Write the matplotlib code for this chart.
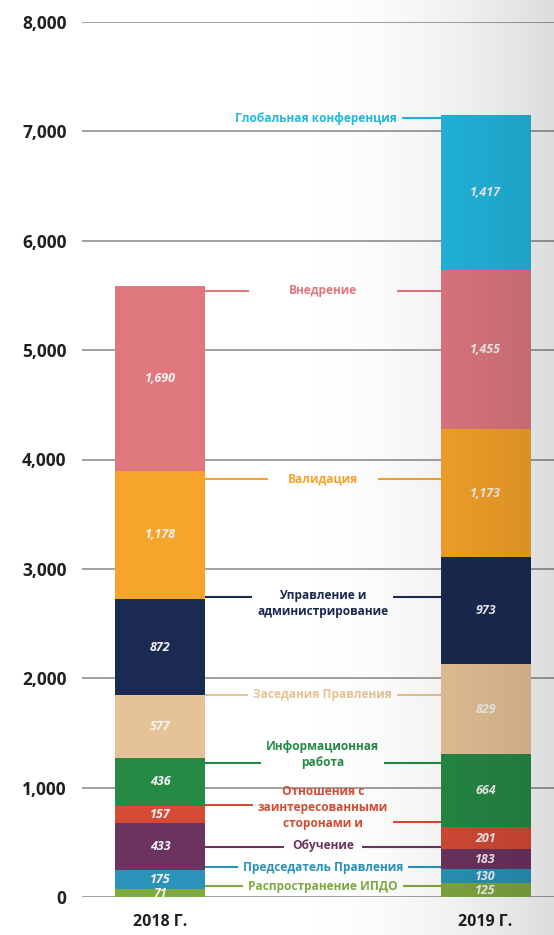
import numpy as np
import matplotlib.pyplot as plt

plt.rcParams['font.family'] = ['Open Sans', 'DejaVu Sans']

years = ['2018 Г.', '2019 Г.']
categories = ['Распространение ИПДО', 'Председатель Правления', 'Обучение',
              'Отношения с\nзаинтересованными\nсторонами и', 'Информационная\nработа',
              'Заседания Правления', 'Управление и\nадминистрирование', 'Валидация',
              'Внедрение', 'Глобальная конференция']
values_2018 = [71, 175, 433, 157, 436, 577, 872, 1178, 1690, 0]
values_2019 = [125, 130, 183, 201, 664, 829, 973, 1173, 1455, 1417]
colors = ['#80A940', '#2A93BA', '#6C3360', '#D64B35', '#268A45',
          '#E6C396', '#1B2A52', '#F7A42A', '#E07880', '#22B8E0']
yticks = list(range(0, 8001, 1000))

# where the category names and their leader lines sit (layout only)
label_y = [100, 274, 470, 814, 1307, 1847, 2679, 3822, 5541, 7122]
left_line_y = [100, 274, 457, 841, 1225, 1847, 2743, 3822, 5541, None]
right_line_y = [100, 274, 457, 686, 1225, 1847, 2743, 3822, 5541, 7122]
line_gap = [5, 5, 8, 5, 5, 5, 5, 20, 40, 5]
label_x = [0.5] * 9 + [0.48]

W, H = 554, 935
fig = plt.figure(figsize=(W / 100, H / 100), dpi=100)
ax = fig.add_axes([82 / W, 38 / H, 472 / W, 875 / H])

x = np.array([0, 1])
width = 0.2765
bottoms = np.zeros(2)
for i, cat in enumerate(categories):
    vals = np.array([values_2018[i], values_2019[i]])
    ax.bar(x, vals, width, bottom=bottoms, color=colors[i], zorder=3)
    for j in range(2):
        if vals[j] > 0:
            ax.text(x[j], bottoms[j] + vals[j] / 2, f'{vals[j]:,}', ha='center', va='center',
                    color='#F4F4F4', fontsize=9, fontstyle='italic', fontweight='bold', zorder=4)
    bottoms += vals

ax.set_xlim(-0.2397, 1.2104)
ax.set_ylim(0, 8000)
ax.set_yticks(yticks)
ax.set_yticklabels([f'{v:,}' for v in yticks], fontsize=12.5, fontweight='bold', color='#231F20')
ax.set_xticks(x)
ax.set_xticklabels(years, fontsize=11.5, fontweight='bold', color='#231F20')
ax.tick_params(axis='y', length=0, pad=11)
ax.tick_params(axis='x', length=0, pad=12)
for s in ax.spines.values():
    s.set_visible(False)
ax.patch.set_alpha(0)
for v in yticks:
    ax.axhline(v, color='#9A9A9A', lw=1.3, zorder=1)

texts = []
for i, cat in enumerate(categories):
    t = ax.text(label_x[i], label_y[i], cat, ha='center', va='center', color=colors[i],
                fontsize=8.6, fontweight='bold', linespacing=1.3, zorder=4)
    texts.append(t)

fig.canvas.draw()
renderer = fig.canvas.get_renderer()
inv = ax.transData.inverted()
for i, t in enumerate(texts):
    bb = t.get_window_extent(renderer)
    x0 = inv.transform((bb.x0 - line_gap[i], 0))[0]
    x1 = inv.transform((bb.x1 + line_gap[i], 0))[0]
    if left_line_y[i] is not None:
        ax.plot([width / 2, x0], [left_line_y[i]] * 2, color=colors[i], lw=1.5, zorder=2,
                solid_capstyle='butt')
    if right_line_y[i] is not None:
        ax.plot([x1, 1 - width / 2], [right_line_y[i]] * 2, color=colors[i], lw=1.5, zorder=2,
                solid_capstyle='butt')

# grey shading towards the right edge
px = np.arange(W)
t = np.clip((px - 270) / (W - 270), 0, 1)
shade = np.zeros((2, W, 4))
shade[..., 3] = 0.14 * t ** 2
over = fig.add_axes([0, 0, 1, 1], zorder=10)
over.imshow(shade, aspect='auto', extent=(0, 1, 0, 1))
over.axis('off')

fig.savefig('out.png', dpi=100)
